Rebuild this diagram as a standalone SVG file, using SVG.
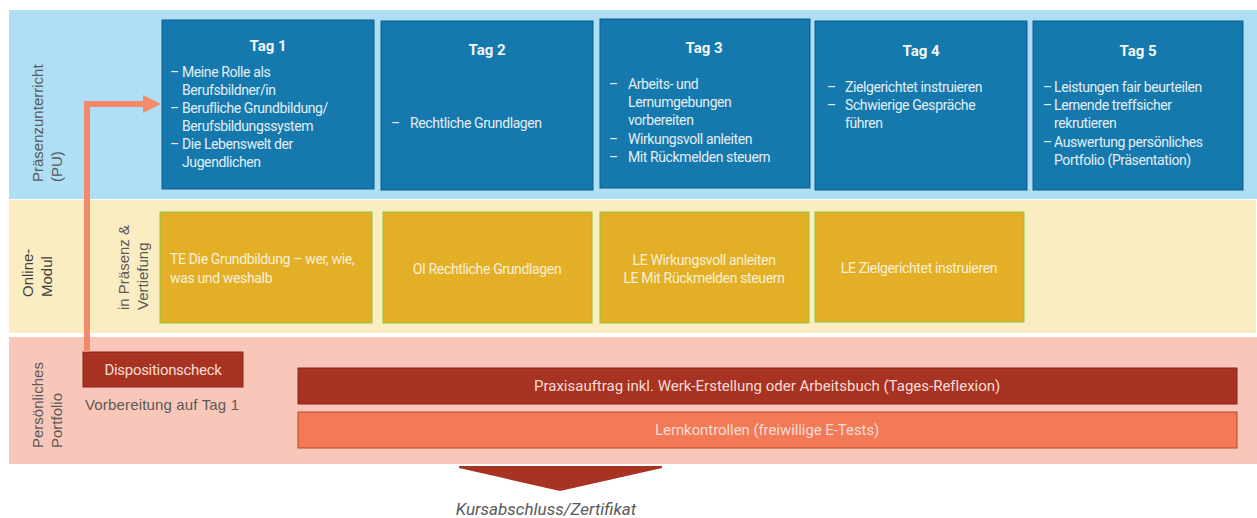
<svg xmlns="http://www.w3.org/2000/svg" width="1257" height="518" viewBox="0 0 1257 518">
<defs>
<style>
.lbl{font-family:"Liberation Sans",Arial,sans-serif;font-size:15px;fill:#5a5a5a}
.lbl2{font-family:"Liberation Sans",Arial,sans-serif;font-size:15px;fill:#3f3f3f}
.tagbox{fill:#1579ad;stroke:#0f5d86;stroke-width:1}
.title{font-family:Roboto,"Liberation Sans",sans-serif;font-size:15px;font-weight:bold;fill:#f1f6f9;text-anchor:middle}
.bt{font-family:Roboto,"Liberation Sans",sans-serif;font-size:14px;fill:#e3eef5;letter-spacing:-0.4px}
.ybox{fill:#e3af27;stroke:#8cc63f;stroke-width:1}
.yt{font-family:Roboto,"Liberation Sans",sans-serif;font-size:14px;fill:#f7efd6;letter-spacing:-0.35px}
.dark{fill:#a93323;stroke:#86241a;stroke-width:1}
.light{fill:#f27a56;stroke:#b8452b;stroke-width:1}
.rt{font-family:Roboto,"Liberation Sans",sans-serif;font-size:15px;fill:#f5ddd5;text-anchor:middle;letter-spacing:-0.3px}
.conn{fill:none;stroke:#f4896b;stroke-width:6}
</style>
<marker id="ah" markerUnits="userSpaceOnUse" markerWidth="18" markerHeight="18" viewBox="0 0 18 18" refX="0" refY="9" orient="auto">
<path d="M0,0 L18,9 L0,18 z" fill="#f4896b"/>
</marker>
</defs>

<g id="bands">
<rect x="9" y="10" width="1248" height="189" fill="#aedff5"/>
<rect x="9" y="200" width="1247" height="133" fill="#fbedc2"/>
<rect x="9" y="337" width="1248" height="127" fill="#f9c7b9"/>
</g>

<g id="row-labels">
<text class="lbl" transform="translate(43,182) rotate(-90)">Präsenzunterricht</text>
<text class="lbl" transform="translate(62,182) rotate(-90)">(PU)</text>
<text class="lbl2" transform="translate(33,297) rotate(-90)">Online-</text>
<text class="lbl2" transform="translate(52,297) rotate(-90)">Modul</text>
<text class="lbl" transform="translate(129,310) rotate(-90)">in Präsenz &amp;</text>
<text class="lbl" transform="translate(148,310) rotate(-90)">Vertiefung</text>
<text class="lbl" transform="translate(43,448) rotate(-90)">Persönliches</text>
<text class="lbl" transform="translate(62,448) rotate(-90)">Portfolio</text>
</g>

<g id="tag1">
<rect class="tagbox" x="162" y="20" width="212" height="169"/>
<text class="title" x="268" y="51">Tag 1</text>
<text class="bt"><tspan x="170" y="77">–</tspan><tspan x="182" y="77">Meine Rolle als</tspan><tspan x="182" y="95">Berufsbildner/in</tspan><tspan x="170" y="113">–</tspan><tspan x="182" y="113">Berufliche Grundbildung/</tspan><tspan x="182" y="131">Berufsbildungssystem</tspan><tspan x="170" y="149">–</tspan><tspan x="182" y="149">Die Lebenswelt  der</tspan><tspan x="182" y="167">Jugendlichen</tspan></text>
</g>

<g id="tag2">
<rect class="tagbox" x="381" y="21" width="212" height="169"/>
<text class="title" x="487" y="55">Tag 2</text>
<text class="bt"><tspan x="391" y="128">–</tspan><tspan x="410" y="128">Rechtliche Grundlagen</tspan></text>
</g>

<g id="tag3">
<rect class="tagbox" x="600" y="19" width="210" height="169"/>
<text class="title" x="704" y="53">Tag 3</text>
<text class="bt"><tspan x="609" y="89">–</tspan><tspan x="628" y="89">Arbeits- und</tspan><tspan x="628" y="107">Lernumgebungen</tspan><tspan x="628" y="125">vorbereiten</tspan><tspan x="609" y="144">–</tspan><tspan x="628" y="144">Wirkungsvoll anleiten</tspan><tspan x="609" y="162">–</tspan><tspan x="628" y="162">Mit Rückmelden steuern</tspan></text>
</g>

<g id="tag4">
<rect class="tagbox" x="815" y="21" width="212" height="169"/>
<text class="title" x="921" y="56">Tag 4</text>
<text class="bt"><tspan x="827" y="92">–</tspan><tspan x="845" y="92">Zielgerichtet instruieren</tspan><tspan x="827" y="110">–</tspan><tspan x="845" y="110">Schwierige Gespräche</tspan><tspan x="845" y="128">führen</tspan></text>
</g>

<g id="tag5">
<rect class="tagbox" x="1033" y="21" width="210" height="169"/>
<text class="title" x="1138" y="56">Tag 5</text>
<text class="bt"><tspan x="1043" y="92">–</tspan><tspan x="1054" y="92">Leistungen  fair beurteilen</tspan><tspan x="1043" y="110">–</tspan><tspan x="1054" y="110">Lernende treffsicher</tspan><tspan x="1054" y="128">rekrutieren</tspan><tspan x="1043" y="147">–</tspan><tspan x="1054" y="147">Auswertung persönliches</tspan><tspan x="1054" y="165">Portfolio (Präsentation)</tspan></text>
</g>

<g id="online1">
<rect class="ybox" x="160" y="212" width="212" height="111"/>
<text class="yt"><tspan x="170" y="264">TE Die Grundbildung  – wer, wie,</tspan><tspan x="170" y="283">was und weshalb</tspan></text>
</g>
<g id="online2">
<rect class="ybox" x="383" y="212" width="209" height="111"/>
<text class="yt" x="487" y="274" text-anchor="middle">OI Rechtliche Grundlagen</text>
</g>
<g id="online3">
<rect class="ybox" x="600" y="212" width="209" height="111"/>
<text class="yt" text-anchor="middle"><tspan x="704" y="265">LE Wirkungsvoll anleiten</tspan><tspan x="704" y="283">LE Mit Rückmelden steuern</tspan></text>
</g>
<g id="online4">
<rect class="ybox" x="815" y="212" width="209" height="110"/>
<text class="yt" x="919" y="273" text-anchor="middle">LE Zielgerichtet instruieren</text>
</g>

<g id="dispositionscheck">
<rect class="dark" x="83" y="352" width="160" height="35"/>
<text class="rt" x="163" y="375">Dispositionscheck</text>
<text class="lbl" x="85" y="410" textLength="154">Vorbereitung  auf Tag 1</text>
</g>

<g id="praxisauftrag">
<rect class="dark" x="298" y="368" width="939" height="36"/>
<text class="rt" x="767" y="391" textLength="466">Praxisauftrag  inkl. Werk-Erstellung oder Arbeitsbuch (Tages-Reflexion)</text>
</g>

<g id="lernkontrollen">
<rect class="light" x="298" y="412" width="939" height="36"/>
<text class="rt" x="767" y="435" textLength="224">Lernkontrollen (freiwillige E-Tests)</text>
</g>

<g id="abschluss">
<polygon points="459,466 662,466 662,468 560,491 459,468" fill="#a93323"/>
<text x="546" y="515" text-anchor="middle" style="font-family:Roboto,'Liberation Sans',sans-serif;font-size:17px;font-style:italic;fill:#5a5a5a">Kursabschluss/Zertifikat</text>
</g>

<g id="connectors">
<path class="conn" d="M87,352 V104 H143" marker-end="url(#ah)"/>
</g>
</svg>
